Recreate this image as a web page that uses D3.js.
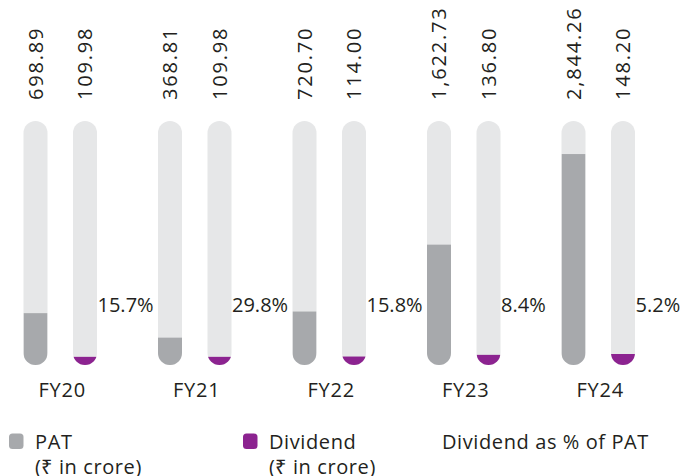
<!DOCTYPE html>
<html>
<head>
<meta charset="utf-8">
<script src="https://cdn.jsdelivr.net/npm/d3@7/dist/d3.min.js"></script>
<style>
  html, body { margin: 0; padding: 0; background: #fff; }
  svg { display: block; }
  text { font-family: "Open Sans", sans-serif; fill: #231f20; }
</style>
</head>
<body>
<svg id="chart" width="684" height="476"></svg>
<script>
// Fiscal years and values (₹ in crore)
const years = ["FY20", "FY21", "FY22", "FY23", "FY24"];
const pat = [698.89, 368.81, 720.70, 1622.73, 2844.26];
const dividend = [109.98, 109.98, 114.00, 136.80, 148.20];
const payoutPct = [15.7, 29.8, 15.8, 8.4, 5.2];
const patLabels = ["698.89", "368.81", "720.70", "1,622.73", "2,844.26"];
const dividendLabels = ["109.98", "109.98", "114.00", "136.80", "148.20"];

const colors = { track: "#e6e7e8", pat: "#a7a9ac", dividend: "#8c2390", text: "#231f20" };

const svg = d3.select("#chart");

const barW = 24;
const trackTop = 121, trackBottom = 365;
const pairOffset = 24.75;

const x = d3.scalePoint().domain(years).range([60.25, 598.25]);
const y = d3.scaleLinear().domain([0, 3290]).range([trackBottom, trackTop]);

const fmtPct = d3.format(".1f");

// Each pill-shaped track clips its own fill, so short fills keep the rounded foot
const defs = svg.append("defs");

const bars = [];
years.forEach((yr, i) => {
  bars.push({ key: "pat" + i, cx: x(yr) - pairOffset, value: pat[i], color: colors.pat, label: patLabels[i] });
  bars.push({ key: "div" + i, cx: x(yr) + pairOffset, value: dividend[i], color: colors.dividend, label: dividendLabels[i] });
});

bars.forEach(b => {
  defs.append("clipPath").attr("id", "clip-" + b.key)
    .append("rect")
    .attr("x", b.cx - barW / 2).attr("y", trackTop)
    .attr("width", barW).attr("height", trackBottom - trackTop)
    .attr("rx", barW / 2).attr("ry", barW / 2);
});

const g = svg.append("g");

const barG = g.selectAll("g.bar").data(bars).join("g").attr("class", "bar");

barG.append("rect")
  .attr("x", d => d.cx - barW / 2).attr("y", trackTop)
  .attr("width", barW).attr("height", trackBottom - trackTop)
  .attr("rx", barW / 2).attr("ry", barW / 2)
  .attr("fill", colors.track);

barG.append("rect")
  .attr("clip-path", d => "url(#clip-" + d.key + ")")
  .attr("x", d => d.cx - barW / 2).attr("y", d => y(d.value))
  .attr("width", barW).attr("height", d => trackBottom - y(d.value))
  .attr("fill", d => d.color);

// Value labels, rotated above each track
barG.append("text")
  .attr("transform", d => `translate(${d.cx},100) rotate(-90)`)
  .attr("dy", "0.36em")
  .attr("text-anchor", "start")
  .style("font-size", "20px")
  .style("letter-spacing", "1.8px")
  .text(d => d.label);

// Payout percentage beside each dividend track
g.selectAll("text.pct").data(years).join("text")
  .attr("class", "pct")
  .attr("x", d => x(d) + pairOffset + barW / 2 + 0.5)
  .attr("y", 311.5)
  .style("font-size", "20px")
  .text((d, i) => fmtPct(payoutPct[i]) + "%");

// Year labels
g.selectAll("text.year").data(years).join("text")
  .attr("class", "year")
  .attr("x", d => x(d) + 2)
  .attr("y", 397)
  .attr("text-anchor", "middle")
  .style("font-size", "20px")
  .style("letter-spacing", "0.8px")
  .text(d => d);

// Legend
const legend = svg.append("g").style("font-size", "20px");
const legendItems = [
  { x: 9, color: colors.pat, lines: ["PAT", "(₹ in crore)"] },
  { x: 243, color: colors.dividend, lines: ["Dividend", "(₹ in crore)"] },
  { x: 442, color: null, lines: ["Dividend as % of PAT"] }
];
legendItems.forEach(it => {
  let tx = it.x;
  if (it.color) {
    legend.append("rect")
      .attr("x", it.x).attr("y", 433.5)
      .attr("width", 14.5).attr("height", 15.5)
      .attr("rx", 3.5).attr("fill", it.color);
    tx = it.x + 26;
  }
  legend.append("text")
    .attr("x", tx).attr("y", 449)
    .style("letter-spacing", "0.6px")
    .selectAll("tspan").data(it.lines).join("tspan")
    .attr("x", tx)
    .attr("dy", (d, i) => i === 0 ? 0 : 24.5)
    .text(d => d);
});
</script>
</body>
</html>
